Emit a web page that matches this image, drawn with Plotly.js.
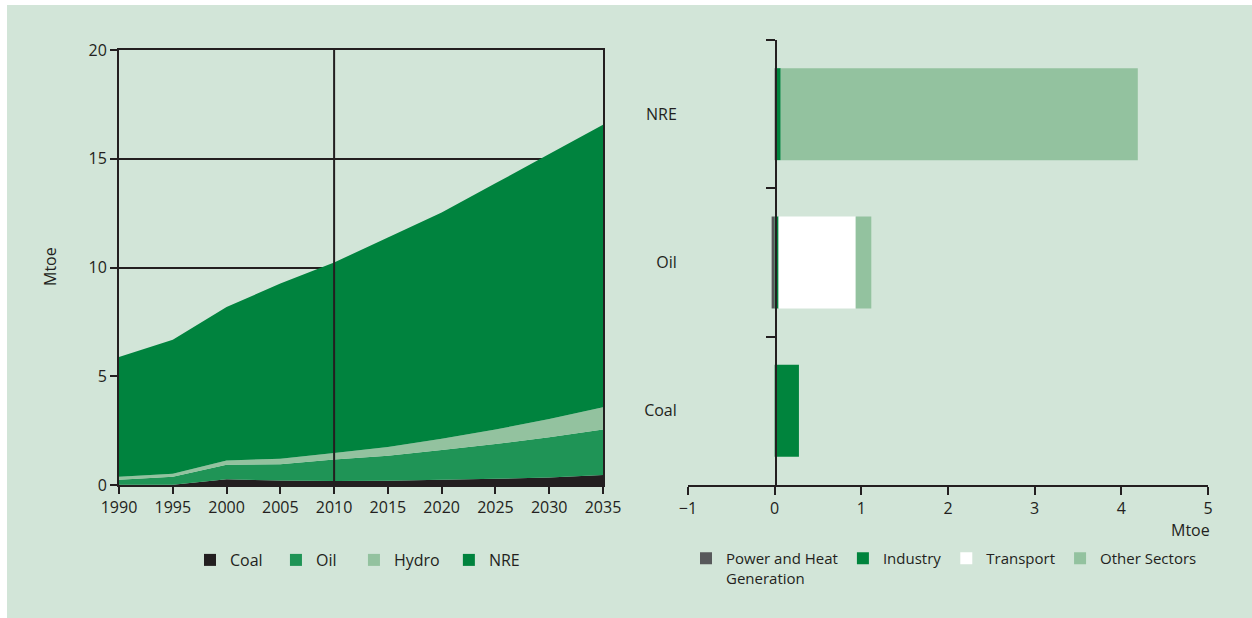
<!DOCTYPE html>
<html>
<head>
<meta charset="utf-8">
<script src="https://cdn.plot.ly/plotly-3.0.1.min.js"></script>
<style>
  html, body { margin: 0; padding: 0; background: #ffffff; }
  #chart { width: 1252px; height: 618px; }
</style>
</head>
<body>
<div id="chart"></div>
<script>
// ---- Left chart: supply by source (Mtoe), stacked areas ----
const years = [1990, 1995, 2000, 2005, 2010, 2015, 2020, 2025, 2030, 2035];
const coal  = [0.01, 0.01, 0.26, 0.21, 0.18, 0.20, 0.24, 0.29, 0.34, 0.46];
const oil   = [0.23, 0.37, 0.67, 0.74, 0.99, 1.15, 1.37, 1.59, 1.85, 2.09];
const hydro = [0.14, 0.14, 0.20, 0.26, 0.30, 0.40, 0.52, 0.67, 0.84, 1.03];
const nre   = [5.50, 6.16, 7.05, 8.05, 8.76, 9.63, 10.40, 11.32, 12.19, 12.98];
const yearTicks = [1990, 1995, 2000, 2005, 2010, 2015, 2020, 2025, 2030, 2035];

// ---- Right chart: demand by sector (Mtoe), horizontal stacked bars ----
const fuels        = ['Coal', 'Oil', 'NRE'];
const powerHeat    = [0.00, -0.035, 0.02];
const industry     = [0.28, 0.045, 0.05];
const transport    = [0.00, 0.89, 0.00];
const otherSectors = [0.00, 0.18, 4.12];

const INK = '#231f20';
const C_COAL = '#231f20', C_OIL = '#1f9456', C_HYDRO = '#93c29f', C_NRE = '#00833e';
const C_POWER = '#58595b', C_IND = '#00843d', C_TRANS = '#ffffff', C_OTHER = '#93c29f';
const FONT = 'Open Sans, sans-serif';
const FS = 16;
const NB = '\u00a0';

function area(name, vals, color) {
  return {
    type: 'scatter', mode: 'none', x: years, y: vals, name: name,
    stackgroup: 'src', fillcolor: color, line: {width: 0},
    xaxis: 'x', yaxis: 'y', showlegend: false, hoverinfo: 'x+y+name'
  };
}
function legendSwatch(name, color) {
  return {
    type: 'bar', x: [null], y: [null], name: name, xaxis: 'x', yaxis: 'y',
    marker: {color: color}, legend: 'legend', showlegend: true, hoverinfo: 'skip'
  };
}
function hbar(name, vals, color) {
  return {
    type: 'bar', orientation: 'h', y: fuels, x: vals, name: name,
    xaxis: 'x2', yaxis: 'y2', marker: {color: color, line: {width: 0}},
    width: 0.62, legend: 'legend2'
  };
}

const traces = [
  area('Coal', coal, C_COAL),
  area('Oil', oil, C_OIL),
  area('Hydro', hydro, C_HYDRO),
  area('NRE', nre, C_NRE),
  legendSwatch('Coal' + NB + NB, C_COAL),
  legendSwatch('Oil' + NB + NB + NB, C_OIL),
  legendSwatch('Hydro' + NB, C_HYDRO),
  legendSwatch('NRE', C_NRE),
  hbar('Power and Heat<br>Generation', powerHeat, C_POWER),
  hbar('Industry', industry, C_IND),
  hbar('Transport', transport, C_TRANS),
  hbar('Other Sectors', otherSectors, C_OTHER)
];

const W = 1252, H = 618;
const px = v => v / W;
const py = v => 1 - v / H;

const layout = {
  width: W, height: H,
  margin: {l: 0, r: 0, t: 0, b: 0},
  paper_bgcolor: '#ffffff',
  plot_bgcolor: 'rgba(0,0,0,0)',
  font: {family: FONT, size: FS, color: INK},
  barmode: 'relative',
  showlegend: true,
  xaxis: {
    domain: [px(119), px(603)], range: [1990, 2035],
    tickvals: yearTicks, ticks: 'outside', ticklen: 7, tickwidth: 2, tickcolor: INK,
    showline: true, linecolor: INK, linewidth: 2, mirror: true,
    showgrid: false, zeroline: false, fixedrange: true,
    tickfont: {family: FONT, size: FS, color: INK}
  },
  yaxis: {
    domain: [py(485), py(50)], range: [0, 20], dtick: 5,
    ticks: 'outside', ticklen: 7, tickwidth: 2, tickcolor: INK,
    showline: true, linecolor: INK, linewidth: 2, mirror: true,
    showgrid: true, gridcolor: INK, gridwidth: 2, zeroline: false,
    tickfont: {family: FONT, size: FS, color: INK}
  },
  xaxis2: {
    domain: [px(688), px(1208)], range: [-1, 5], dtick: 1, anchor: 'y2',
    ticks: 'outside', ticklen: 8, tickwidth: 2, tickcolor: INK,
    showline: true, linecolor: INK, linewidth: 2,
    showgrid: false, zeroline: false,
    tickfont: {family: FONT, size: FS, color: INK}
  },
  yaxis2: {
    domain: [py(485), py(40)], range: [-0.5, 2.5], anchor: 'free', position: px(776),
    type: 'category', categoryorder: 'array', categoryarray: fuels,
    tickson: 'boundaries', ticks: 'outside', ticklen: 9, tickwidth: 2, tickcolor: INK,
    ticklabelstandoff: 95,
    showline: true, linecolor: INK, linewidth: 2,
    showgrid: false, zeroline: false,
    tickfont: {family: FONT, size: FS, color: INK}
  },
  legend: {
    orientation: 'h', x: px(190), y: py(543), xanchor: 'left', yanchor: 'top',
    bgcolor: 'rgba(0,0,0,0)', font: {family: FONT, size: FS, color: INK},
    traceorder: 'normal'
  },
  legend2: {
    orientation: 'h', x: px(686), y: py(542), xanchor: 'left', yanchor: 'top',
    bgcolor: 'rgba(0,0,0,0)', font: {family: FONT, size: 15, color: INK},
    traceorder: 'normal', valign: 'top'
  },
  shapes: [
    {type: 'rect', xref: 'paper', yref: 'paper', x0: px(7), x1: 1, y0: 0, y1: py(5),
     fillcolor: '#d2e5d8', line: {width: 0}, layer: 'below'},
    {type: 'line', xref: 'x', yref: 'paper', x0: 2010, x1: 2010, y0: py(485), y1: py(50),
     line: {color: INK, width: 2}, layer: 'above'}
  ],
  annotations: [
    {text: 'Mtoe', xref: 'paper', yref: 'paper', x: px(50), y: py(267),
     textangle: -90, showarrow: false, xanchor: 'center', yanchor: 'middle',
     font: {family: FONT, size: FS, color: INK}},
    {text: 'Mtoe', xref: 'paper', yref: 'paper', x: px(1212), y: py(530),
     showarrow: false, xanchor: 'right', yanchor: 'middle',
     font: {family: FONT, size: FS, color: INK}}
  ]
};

Plotly.newPlot('chart', traces, layout, {displayModeBar: false, staticPlot: true});
</script>
</body>
</html>
